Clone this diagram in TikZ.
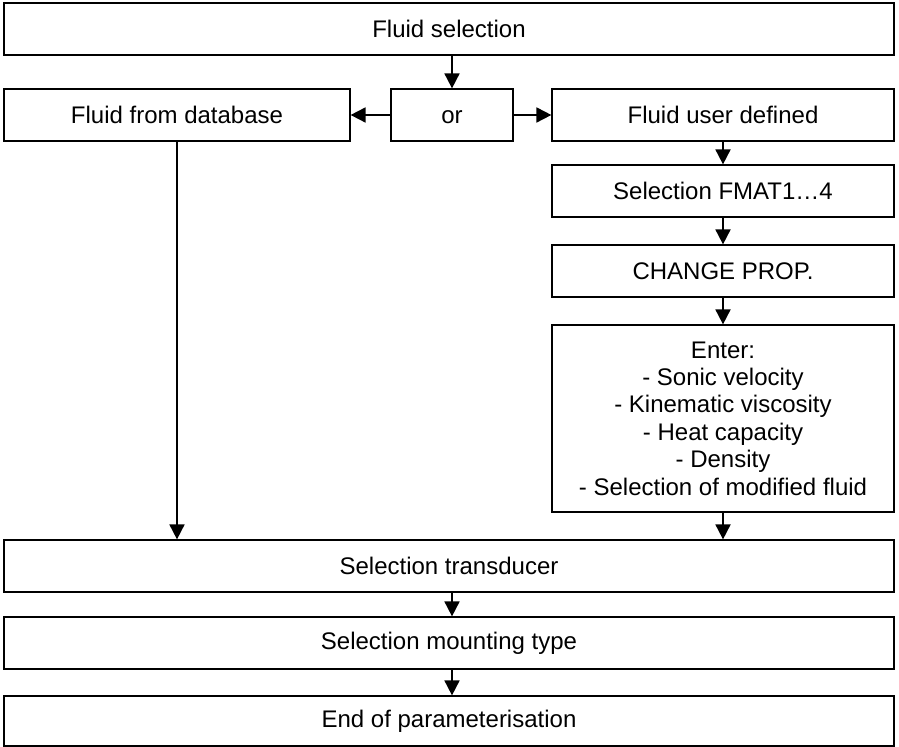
\documentclass[tikz,border=0pt]{standalone}
\usepackage{fontspec}
\setmainfont{Liberation Sans}
\usepackage{tikz}
\usetikzlibrary{positioning, arrows.meta, calc}

\begin{document}
\begin{tikzpicture}[x=0.5pt, y=-0.5pt,
			stepbox/.style={rectangle, draw=black, line width=0.6pt, minimum height=26pt, inner sep=2pt, align=center, font=\fontsize{12}{13.7}\selectfont},
			widebox/.style={stepbox, minimum width=445pt},
			arrow/.style={-{Triangle[length=7.5pt, width=7.5pt]}, line width=0.9pt},
			]
			\useasboundingbox (0,0) rectangle (899,747);
			% top row
			\node[widebox] (fluidsel) at (449,29) {Fluid selection};
			\node[stepbox, minimum width=61pt] (or) at (452,115) {\vphantom{F}or};
			\node[stepbox, minimum width=173pt] (database) at (177,115) {Fluid from database};
			\node[stepbox, minimum width=171pt] (userdef) at (723,115) {Fluid user defined};
			% user defined branch
			\node[stepbox, minimum width=171pt] (fmat) at (723,191) {Selection FMAT1…4};
			\node[stepbox, minimum width=171pt] (change) at (723,271) {CHANGE PROP.};
			\node[stepbox, minimum width=171pt, minimum height=93.5pt] (enter) at (723,418.5) {Enter:\\- Sonic velocity\\- Kinematic viscosity\\- Heat capacity\\- Density\\- Selection of modified fluid};
			% bottom rows
			\node[widebox] (transducer) at (449,566) {Selection transducer};
			\node[widebox] (mounting) at (449,643) {Selection mounting type};
			\node[widebox, minimum height=25pt] (end) at (449,721) {End of parameterisation};
			\draw[arrow] (fluidsel.south -| or) -- (or);
			\draw[arrow] (or) -- (database);
			\draw[arrow] (or) -- (userdef);
			\draw[arrow] (userdef) -- (fmat);
			\draw[arrow] (fmat) -- (change);
			\draw[arrow] (change) -- (enter);
			\draw[arrow] (enter) -- (enter.south |- transducer.north);
			\draw[arrow] (database) -- (database.south |- transducer.north);
			\draw[arrow] (transducer.south -| or) -- (mounting.north -| or);
			\draw[arrow] (mounting.south -| or) -- (end.north -| or);
		\end{tikzpicture}
\end{document}
